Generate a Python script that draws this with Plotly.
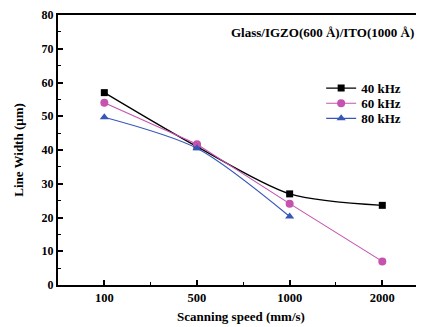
import plotly.graph_objects as go

categories = ["100", "500", "1000", "2000"]
speed_40 = [57.0, 41.0, 27.0, 23.6]
speed_60 = [54.0, 41.7, 24.1, 7.0]
speed_80 = [49.7, 40.5, 20.3]
series_names = ["40 kHz", "60 kHz", "80 kHz"]
y_ticks = [0, 10, 20, 30, 40, 50, 60, 70, 80]

font = "Liberation Serif"
xs = list(range(len(categories)))
c40, c60, c80 = "black", "#C552AE", "#3557B8"

fig = go.Figure()
fig.add_trace(go.Scatter(x=xs, y=speed_40, name=series_names[0], mode="lines+markers", legend="legend",
                         line=dict(color=c40, width=1.3, shape="spline", smoothing=0.8),
                         marker=dict(symbol="square", size=7, color=c40)))
fig.add_trace(go.Scatter(x=xs, y=speed_60, name=series_names[1], mode="lines+markers", legend="legend2",
                         line=dict(color=c60, width=1.1),
                         marker=dict(symbol="circle", size=8, color=c60)))
fig.add_trace(go.Scatter(x=xs[:len(speed_80)], y=speed_80, name=series_names[2], mode="lines+markers", legend="legend3",
                         line=dict(color=c80, width=1.1, shape="spline", smoothing=0.8),
                         marker=dict(symbol="triangle-up", size=8, color=c80)))

leg_font = dict(family=font, size=13, color="black", weight="bold")
def leg(y):
    return dict(x=0.719, y=y, xanchor="left", yanchor="middle", font=leg_font,
                bgcolor="rgba(0,0,0,0)", itemwidth=30)

fig.update_layout(
    width=424, height=327,
    margin=dict(l=50, r=8, t=7, b=50, autoexpand=False),
    paper_bgcolor="white", plot_bgcolor="white",
    font=dict(family=font, color="black", size=13),
    showlegend=True,
    legend=leg(0.729), legend2=leg(0.673), legend3=leg(0.617),
    xaxis=dict(range=[-0.5, 3.45], tickvals=xs, ticktext=categories, automargin=False,
               showgrid=False, zeroline=False,
               showline=True, linecolor="black", linewidth=2, mirror=True,
               ticks="inside", ticklen=5, tickwidth=1.5, tickcolor="black",
               minor=dict(dtick=0.5, tick0=-0.5, ticks="inside", ticklen=3, tickwidth=1.2, tickcolor="black"),
               tickfont=dict(family=font, size=12.5, weight="bold"),
               title=dict(text="Scanning speed (mm/s)", font=dict(family=font, size=13, weight="bold"), standoff=8)),
    yaxis=dict(range=[0, 80], tickvals=y_ticks, automargin=False, ticklabeloverflow="allow",
               showgrid=False, zeroline=False,
               showline=True, linecolor="black", linewidth=2, mirror=True,
               ticks="inside", ticklen=5, tickwidth=1.5, tickcolor="black",
               minor=dict(dtick=5, ticks="inside", ticklen=3, tickwidth=1.2, tickcolor="black"),
               tickfont=dict(family=font, size=12, weight="bold"),
               title=dict(text="Line Width (\u03bcm)", font=dict(family=font, size=13, weight="bold"), standoff=15)),
    annotations=[dict(text="Glass/IGZO(600 \u00c5)/ITO(1000 \u00c5)", xref="paper", yref="paper",
                      x=0.978, y=0.935, xanchor="right", yanchor="middle", showarrow=False,
                      font=dict(family=font, size=13, weight="bold"))],
)

fig.write_html("out.html")
